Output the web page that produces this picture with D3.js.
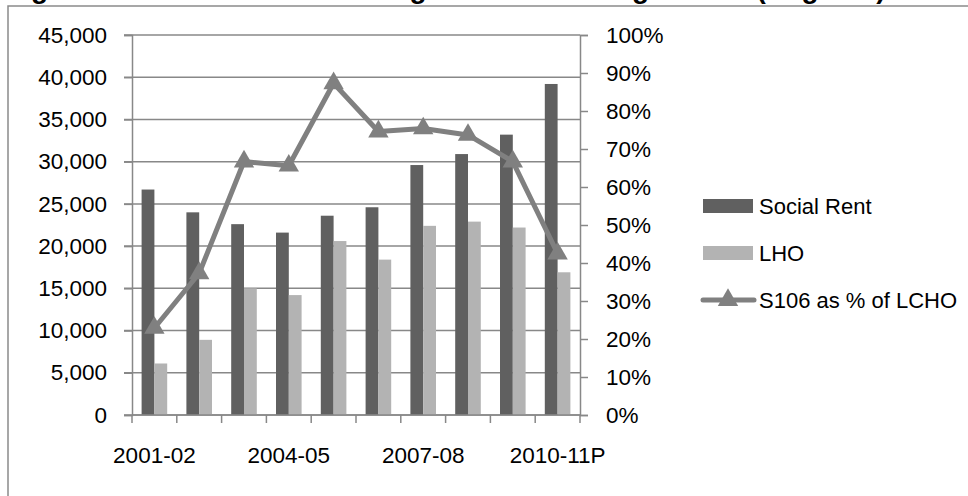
<!DOCTYPE html>
<html>
<head>
<meta charset="utf-8">
<script src="https://cdn.jsdelivr.net/npm/d3@7"></script>
<style>
  html, body { margin: 0; padding: 0; background: #fff; }
  svg { display: block; }
  text { font-family: "Liberation Sans", Arial, sans-serif; fill: #000; }
</style>
</head>
<body>
<svg id="chart" width="968" height="496"></svg>
<script>
// Completions by year: social rent and low-cost home ownership, plus S106 share
const years = ["2001-02", "2002-03", "2003-04", "2004-05", "2005-06",
               "2006-07", "2007-08", "2008-09", "2009-10", "2010-11P"];
const shownYears = ["2001-02", "2004-05", "2007-08", "2010-11P"];
const socialRent = [26700, 24000, 22600, 21600, 23600, 24600, 29600, 30900, 33200, 39200];
const lho = [6100, 8900, 15000, 14200, 20600, 18400, 22400, 22900, 22200, 16900];
const s106Share = [0.229, 0.373, 0.667, 0.656, 0.873, 0.746, 0.754, 0.737, 0.667, 0.425];
const leftTicks = [0, 5000, 10000, 15000, 20000, 25000, 30000, 35000, 40000, 45000];
const rightTicks = [0, 0.1, 0.2, 0.3, 0.4, 0.5, 0.6, 0.7, 0.8, 0.9, 1.0];
const seriesNames = ["Social Rent", "LHO", "S106 as % of LCHO"];

const darkBar = "#606060", lightBar = "#b3b3b3", lineCol = "#808080", gridCol = "#888888";

const svg = d3.select("#chart");

// title (top edge of the page crop)
svg.append("text")
  .attr("x", 6).attr("y", -2)
  .style("font-weight", "bold").style("font-size", "28px")
  .text("Figure 10.3: Affordable housing and total S106 gain rate (England)");

// chart frame
svg.append("path")
  .attr("d", "M8,500 V6 H975")
  .attr("fill", "none").attr("stroke", "#8a8a8a").attr("stroke-width", 1.5);

const plot = { left: 132, right: 580, top: 35, bottom: 415 };

const x = d3.scaleBand().domain(years).range([plot.left, plot.right]);
const yL = d3.scaleLinear().domain([0, 45000]).range([plot.bottom, plot.top]);
const yR = d3.scaleLinear().domain([0, 1]).range([plot.bottom, plot.top]);

// bars: gap of 150% of a bar width
const barW = x.bandwidth() / 3.5;
const inner = d3.scaleBand().domain([0, 1]).range([0, barW * 2]);

// horizontal gridlines from the left axis
svg.append("g").selectAll("line").data(leftTicks).join("line")
  .attr("x1", plot.left - 8).attr("x2", plot.right)
  .attr("y1", d => yL(d)).attr("y2", d => yL(d))
  .attr("stroke", gridCol).attr("stroke-width", 1.5);

// bars
const groups = svg.append("g").selectAll("g").data(years).join("g")
  .attr("transform", d => `translate(${x(d) + x.bandwidth() / 2 - barW},0)`);
groups.append("rect")
  .attr("x", inner(0)).attr("width", barW)
  .attr("y", (d, i) => yL(socialRent[i]))
  .attr("height", (d, i) => yL(0) - yL(socialRent[i]))
  .attr("fill", darkBar);
groups.append("rect")
  .attr("x", inner(1)).attr("width", barW)
  .attr("y", (d, i) => yL(lho[i]))
  .attr("height", (d, i) => yL(0) - yL(lho[i]))
  .attr("fill", lightBar);

// left axis
const axL = svg.append("g").attr("transform", `translate(${plot.left},0)`)
  .call(d3.axisLeft(yL).tickValues(leftTicks).tickFormat(d3.format(",")).tickSize(8).tickPadding(17));
axL.select(".domain").attr("stroke", gridCol).attr("stroke-width", 1.5);
axL.selectAll(".tick line").attr("stroke", gridCol).attr("stroke-width", 1.5);
axL.selectAll("text").style("font-size", "22.5px").attr("font-family", null).attr("fill", "#000");

// right axis
const axR = svg.append("g").attr("transform", `translate(${plot.right},0)`)
  .call(d3.axisRight(yR).tickValues(rightTicks).tickFormat(d3.format(".0%")).tickSize(8).tickPadding(18));
axR.select(".domain").attr("stroke", gridCol).attr("stroke-width", 1.5);
axR.selectAll(".tick line").attr("stroke", gridCol).attr("stroke-width", 1.5);
axR.selectAll("text").style("font-size", "22.5px").attr("font-family", null).attr("fill", "#000");

// bottom axis: ticks on category boundaries, labels every third year
const xg = svg.append("g");
xg.append("line")
  .attr("x1", plot.left).attr("x2", plot.right)
  .attr("y1", plot.bottom).attr("y2", plot.bottom)
  .attr("stroke", gridCol).attr("stroke-width", 1.5);
const bounds = years.map(d => x(d)).concat([plot.right]);
xg.selectAll("line.tk").data(bounds).join("line").attr("class", "tk")
  .attr("x1", d => d).attr("x2", d => d)
  .attr("y1", plot.bottom).attr("y2", plot.bottom + 8)
  .attr("stroke", gridCol).attr("stroke-width", 1.5);
xg.selectAll("text").data(shownYears).join("text")
  .attr("x", d => x(d) + x.bandwidth() / 2)
  .attr("y", 463)
  .attr("text-anchor", "middle")
  .style("font-size", "22.5px")
  .text(d => d);

// S106 share line with triangle markers
const line = d3.line()
  .x((d, i) => x(years[i]) + x.bandwidth() / 2)
  .y(d => yR(d));
svg.append("path").datum(s106Share)
  .attr("d", line)
  .attr("fill", "none").attr("stroke", lineCol).attr("stroke-width", 5)
  .attr("stroke-linejoin", "round");
const tri = d3.symbol().type(d3.symbolTriangle).size(180);
svg.append("g").selectAll("path").data(s106Share).join("path")
  .attr("d", tri)
  .attr("transform", (d, i) => `translate(${x(years[i]) + x.bandwidth() / 2},${yR(d)})`)
  .attr("fill", lineCol);

// legend
const leg = svg.append("g");
const legY = [206, 253, 300];
leg.append("rect").attr("x", 703).attr("y", legY[0] - 7).attr("width", 50).attr("height", 14).attr("fill", darkBar);
leg.append("rect").attr("x", 703).attr("y", legY[1] - 7).attr("width", 50).attr("height", 14).attr("fill", lightBar);
leg.append("line").attr("x1", 703).attr("x2", 754).attr("y1", legY[2]).attr("y2", legY[2])
  .attr("stroke", lineCol).attr("stroke-width", 5).attr("stroke-linecap", "round");
leg.append("path").attr("d", tri).attr("transform", `translate(728,${legY[2]})`).attr("fill", lineCol);
leg.selectAll("text").data(seriesNames).join("text")
  .attr("x", 759).attr("y", (d, i) => legY[i] + 8)
  .style("font-size", "22px")
  .text(d => d);
</script>
</body>
</html>
